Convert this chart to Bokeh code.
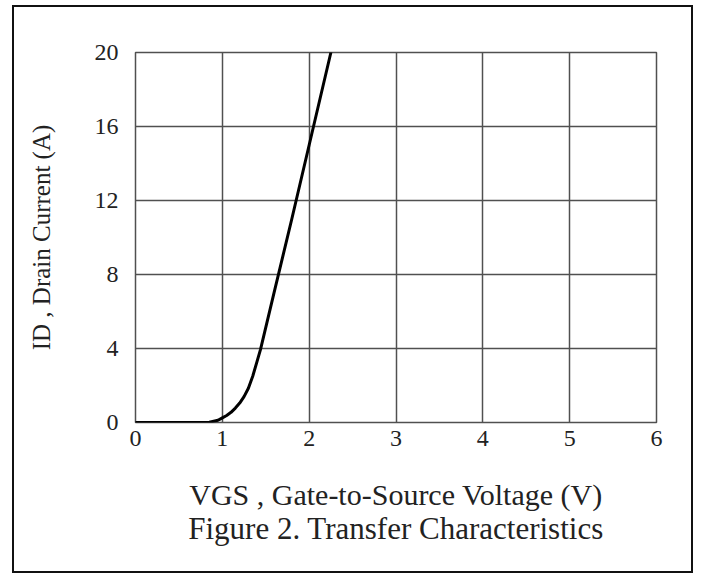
from bokeh.plotting import figure
from bokeh.layouts import column
from bokeh.models import Range1d, FixedTicker, Title
from bokeh.embed import file_html
from bokeh.resources import INLINE

# Data (VGS in V, ID in A)
vgs = [0, 0.5, 0.85, 0.95, 1.0, 1.05, 1.1, 1.15, 1.2, 1.25, 1.3, 1.35, 1.4, 1.44, 1.6, 1.8, 2.0, 2.25]
id_a = [0, 0, 0.02, 0.12, 0.25, 0.38, 0.55, 0.78, 1.05, 1.4, 1.85, 2.5, 3.3, 3.95, 7.1, 11.0, 15.0, 20.0]
x_ticks = [0, 1, 2, 3, 4, 5, 6]
y_ticks = [0, 4, 8, 12, 16, 20]

FONT = "Liberation Serif"
GRID = "#505050"
TXT = "#222222"

p = figure(
    output_backend="svg", toolbar_location=None,
    frame_width=521, frame_height=370,
    min_border_left=121, min_border_right=35, min_border_top=45, min_border_bottom=149,
    x_range=Range1d(0, 6), y_range=Range1d(0, 20),
)

p.line(vgs, id_a, line_color="black", line_width=3, line_join="round", line_cap="round")

for ax, ticks in ((p.xaxis[0], x_ticks), (p.yaxis[0], y_ticks)):
    ax.ticker = FixedTicker(ticks=ticks)
    ax.major_tick_out = 0
    ax.major_tick_in = 0
    ax.minor_tick_out = 0
    ax.minor_tick_in = 0
    ax.axis_line_color = None
    ax.major_label_text_font = FONT
    ax.major_label_text_font_size = "24px"
    ax.major_label_text_color = TXT
    ax.axis_label_text_font = FONT
    ax.axis_label_text_font_style = "normal"
    ax.axis_label_text_color = TXT

p.xaxis.axis_label = "VGS , Gate-to-Source Voltage (V)"
p.xaxis.axis_label_text_font_size = "30px"
p.xaxis.axis_label_text_line_height = 1.0
p.xaxis.major_label_standoff = 8
p.xaxis.axis_label_standoff = 29

p.yaxis.axis_label = "ID , Drain Current (A)"
p.yaxis.axis_label_text_font_size = "25px"
p.yaxis.major_label_standoff = 17
p.yaxis.axis_label_standoff = 37

p.xgrid.ticker = FixedTicker(ticks=x_ticks)
p.ygrid.ticker = FixedTicker(ticks=y_ticks)
p.grid.grid_line_color = GRID
p.grid.grid_line_width = 1.5
p.grid.grid_line_alpha = 1.0

p.outline_line_color = GRID
p.outline_line_width = 1.5
p.background_fill_color = "white"
p.border_fill_color = "white"

cap = Title(text="Figure 2. Transfer Characteristics", align="center",
            text_font=FONT, text_font_size="31px", text_font_style="normal",
            text_color=TXT, standoff=-10, text_line_height=1.0)
p.add_layout(cap, "below")

layout = column(p, styles={"border": "2px solid #111111", "margin-left": "12px",
                           "margin-top": "5px", "background-color": "white"})

open("out.html", "w").write(file_html(layout, INLINE))
